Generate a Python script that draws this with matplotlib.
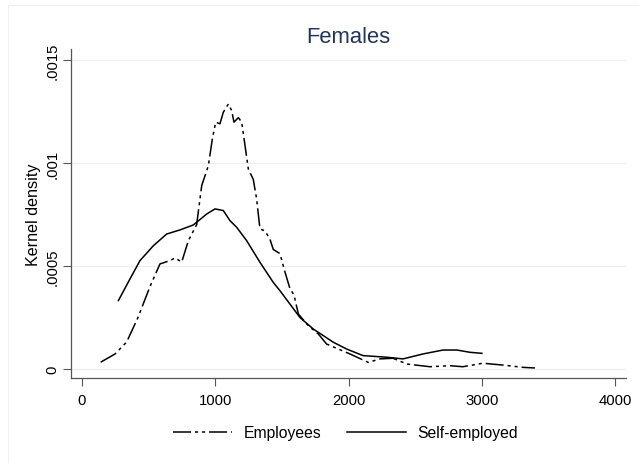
import matplotlib.pyplot as plt
from matplotlib.patches import Rectangle

plt.rcParams['font.family'] = ['Liberation Sans', 'DejaVu Sans']

# kernel density estimates
emp_x = [140, 248, 335, 420, 510, 585, 660, 698, 748, 798, 860, 898, 948, 978,
         1003, 1035, 1060, 1098, 1123, 1140, 1173, 1198, 1223, 1248, 1285, 1310,
         1335, 1373, 1410, 1435, 1485, 1523, 1560, 1590, 1623, 1698, 1773, 1835,
         2010, 2148, 2235, 2333, 2438, 2610, 2760, 2857, 3008, 3158, 3308, 3398]
emp_y = [3.3e-5, 7.3e-5, 1.31e-4, 2.5e-4, 4.0e-4, 5.1e-4, 5.26e-4, 5.39e-4,
         5.19e-4, 6.23e-4, 7.0e-4, 8.9e-4, 9.87e-4, 1.117e-3, 1.198e-3, 1.19e-3,
         1.246e-3, 1.286e-3, 1.254e-3, 1.198e-3, 1.22e-3, 1.198e-3, 1.084e-3,
         9.7e-4, 9.2e-4, 8.25e-4, 6.8e-4, 6.7e-4, 6.3e-4, 5.8e-4, 5.6e-4, 4.7e-4,
         3.9e-4, 3.6e-4, 2.67e-4, 2.1e-4, 1.7e-4, 1.21e-4, 7.3e-5, 3.2e-5, 4.9e-5,
         5.2e-5, 2.4e-5, 1.1e-5, 1.6e-5, 1.1e-5, 2.8e-5, 1.9e-5, 8e-6, 5e-6]

self_x = [273, 360, 435, 535, 635, 735, 835, 860, 935, 998, 1060, 1110, 1160,
          1235, 1335, 1435, 1485, 1635, 1735, 1885, 1985, 2108, 2288, 2408,
          2558, 2708, 2813, 2911, 3000]
self_y = [3.32e-4, 4.37e-4, 5.26e-4, 5.98e-4, 6.55e-4, 6.75e-4, 6.99e-4, 7.12e-4,
          7.52e-4, 7.77e-4, 7.69e-4, 7.2e-4, 6.88e-4, 6.23e-4, 5.18e-4, 4.2e-4,
          3.8e-4, 2.5e-4, 1.94e-4, 1.3e-4, 9.7e-5, 6.5e-5, 5.7e-5, 4.9e-5,
          7.3e-5, 9.2e-5, 9.2e-5, 8.1e-5, 7.6e-5]

xticks = [0, 1000, 2000, 3000, 4000]
yticks = [0, 0.0005, 0.001, 0.0015]
ytick_labels = ['0', '.0005', '.001', '.0015']

fig = plt.figure(figsize=(6.39, 4.64), dpi=100)
fig.patches.append(Rectangle((8 / 639, -0.01), 1.0, 1 - 6 / 464 + 0.01,
                             transform=fig.transFigure, fill=False,
                             edgecolor='#eef1f2', lw=0.8))
ax = fig.add_axes([71 / 639, 1 - 379 / 464, (626 - 71) / 639, (379 - 50) / 464])

ax.plot(emp_x, emp_y, color='black', lw=1.1,
        linestyle=(0, (11.8, 2.6, 2, 2.6, 2, 2.6)), label='Employees')
ax.plot(self_x, self_y, color='black', lw=1.1, label='Self-employed')

ax.set_xlim(-82.5, 4081)
ax.set_ylim(-4.37e-5, 1.553e-3)
ax.set_xticks(xticks)
ax.set_xticklabels([str(t) for t in xticks])
ax.set_yticks(yticks)
ax.set_yticklabels(ytick_labels, rotation=90, va='center')
ax.tick_params(axis='both', labelsize=10.7, length=5.5, width=0.8,
               color='#555555')
ax.tick_params(axis='x', pad=5)
ax.tick_params(axis='y', pad=3)
ax.grid(axis='y', color='#eaf0f2', lw=1.0)
ax.set_axisbelow(True)
for s in ['top', 'right']:
    ax.spines[s].set_visible(False)
for s in ['left', 'bottom']:
    ax.spines[s].set_color('#555555')
    ax.spines[s].set_linewidth(0.9)

ax.set_ylabel('Kernel density', fontsize=11.6, labelpad=3)
ax.set_title('Females', fontsize=15.8, color='#1f3560', pad=5)

ax.legend(loc='upper center', bbox_to_anchor=(0.4946, -0.1), ncol=2,
          frameon=False, fontsize=11.3, handlelength=3.76, columnspacing=1.65,
          handletextpad=0.7)

fig.savefig('out.png', dpi=100)
